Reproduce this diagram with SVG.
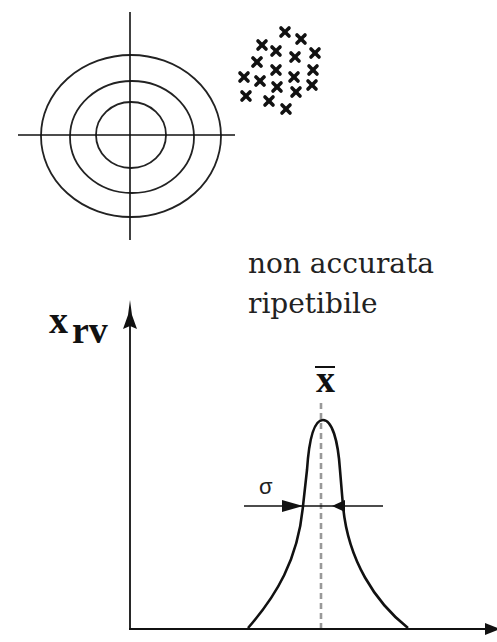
<svg xmlns="http://www.w3.org/2000/svg" width="497" height="642" viewBox="0 0 497 642">
<style>
.ring{fill:none;stroke:#222;stroke-width:1.8}
.cross{stroke:#111;stroke-width:1.6}
.mk{stroke:#111;stroke-width:3.6;stroke-linecap:round}
.axis{stroke:#111;stroke-width:1.8;fill:none}
.lbl{font-family:"DejaVu Serif","Liberation Serif",serif;font-size:28px;fill:#222}
.bx{font-family:"Liberation Serif",serif;font-weight:bold;font-size:38px;fill:#111}
</style>
<defs>
<g id="m"><line class="mk" x1="-4" y1="-4" x2="4" y2="4"/><line class="mk" x1="-4" y1="4" x2="4" y2="-4"/></g>
</defs>
<rect width="497" height="642" fill="#fff"/>
<g id="target">
<ellipse class="ring" cx="131" cy="136" rx="90" ry="81"/>
<ellipse class="ring" cx="132" cy="137" rx="62" ry="56"/>
<ellipse class="ring" cx="131" cy="135" rx="35" ry="33"/>
<line class="cross" x1="130" y1="12" x2="130" y2="240"/>
<line class="cross" x1="18" y1="135" x2="235" y2="135"/>
</g>
<g id="cluster">
<use href="#m" x="285" y="32"/>
<use href="#m" x="301" y="39"/>
<use href="#m" x="262" y="45"/>
<use href="#m" x="276" y="51"/>
<use href="#m" x="295" y="57"/>
<use href="#m" x="315" y="53"/>
<use href="#m" x="257" y="62"/>
<use href="#m" x="276" y="70"/>
<use href="#m" x="313" y="70"/>
<use href="#m" x="294" y="77"/>
<use href="#m" x="244" y="77"/>
<use href="#m" x="260" y="81"/>
<use href="#m" x="277" y="87"/>
<use href="#m" x="312" y="85"/>
<use href="#m" x="296" y="92"/>
<use href="#m" x="246" y="96"/>
<use href="#m" x="269" y="101"/>
<use href="#m" x="286" y="109"/>
</g>
<g id="caption">
<text class="lbl" x="248" y="273">non accurata</text>
<text class="lbl" x="248" y="313">ripetibile</text>
</g>
<g id="axes">
<line class="axis" x1="130" y1="318" x2="130" y2="629"/>
<line class="axis" x1="129" y1="629" x2="488" y2="629"/>
<polygon points="130,300 132,315 137,329 130,326 123,329 128,315" fill="#111"/>
<polygon points="485,623 500,629 485,635" fill="#111"/>
<text class="bx" x="49" y="333">x</text>
<text class="bx" x="72" y="343" font-size="36">rv</text>
</g>
<g id="curve">
<line x1="321" y1="403" x2="321" y2="628" stroke="#999" stroke-width="2.6" stroke-dasharray="6,4"/>
<path d="M248,628 C276,596 298,560 303,506 L307,470 C309,440 314,420 323,420 C332,420 338,440 340,470 L343,506 C348,560 375,602 408,628" fill="none" stroke="#111" stroke-width="2.6"/>
<text class="bx" x="316" y="392" font-size="36">x</text>
<line x1="315" y1="367" x2="335" y2="367" stroke="#111" stroke-width="2"/>
</g>
<g id="sigma">
<line x1="244" y1="506" x2="383" y2="506" stroke="#111" stroke-width="1.6"/>
<polygon points="282,500 303,506 282,512" fill="#111"/>
<polygon points="345,500 332,506 345,512" fill="#111"/>
<text x="259" y="494" font-family="Liberation Sans,sans-serif" font-size="22" fill="#222">σ</text>
</g>
</svg>
